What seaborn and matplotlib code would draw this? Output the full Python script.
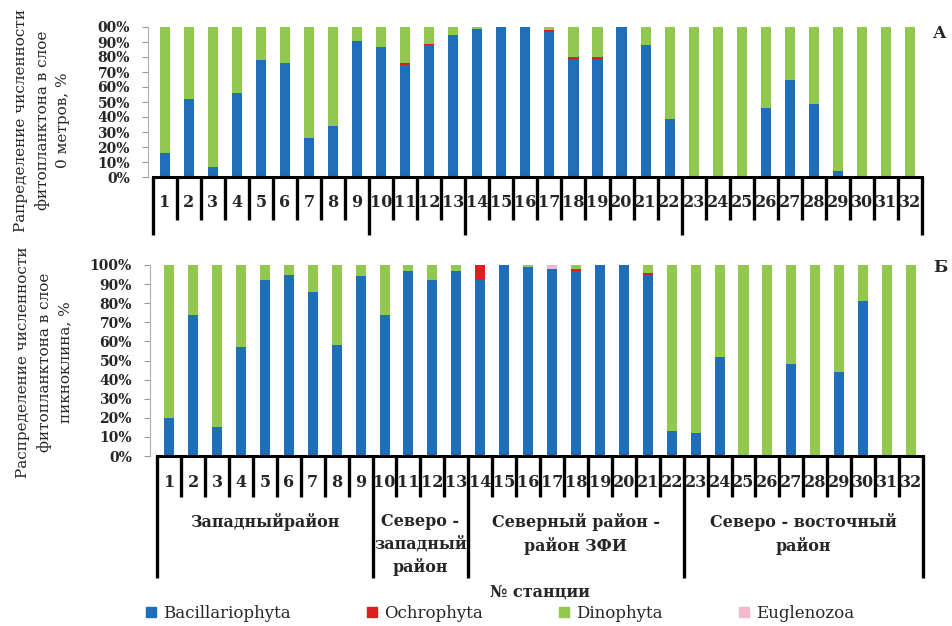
import matplotlib.pyplot as plt
import seaborn as sns
import pandas as pd
from matplotlib.lines import Line2D

# station numbers
stations = [str(i) for i in range(1, 33)]

# layer 0 m (panel A), % of phytoplankton abundance
top_bacil = [16, 52, 7, 56, 78, 76, 26, 34, 91, 87, 75, 88, 95, 99, 100, 100,
             97, 78, 78, 100, 88, 39, 0, 0, 0, 46, 65, 49, 4, 0, 0, 0]
top_ochro = [0, 0, 0, 0, 0, 0, 0, 0, 0, 0, 1, 1, 0, 0, 0, 0,
             1, 2, 2, 0, 0, 0, 0, 0, 0, 0, 0, 0, 0, 0, 0, 0]
top_dino = [84, 48, 93, 44, 22, 24, 74, 66, 9, 13, 24, 11, 5, 1, 0, 0,
            2, 20, 20, 0, 12, 61, 100, 100, 100, 54, 35, 51, 96, 100, 100, 100]
top_eugl = [0] * 32

# pycnocline layer (panel Б)
bot_bacil = [20, 74, 15, 57, 92, 95, 86, 58, 94, 74, 97, 92, 97, 92, 100, 99,
             98, 97, 100, 100, 95, 13, 12, 52, 0, 0, 48, 0, 44, 81, 0, 0]
bot_ochro = [0, 0, 0, 0, 0, 0, 0, 0, 0, 0, 0, 0, 0, 8, 0, 0,
             0, 1, 0, 0, 1, 0, 0, 0, 0, 0, 0, 0, 0, 0, 0, 0]
bot_dino = [80, 26, 85, 43, 8, 5, 14, 42, 6, 26, 3, 8, 3, 0, 0, 1,
            0, 2, 0, 0, 4, 87, 88, 48, 100, 100, 52, 100, 56, 19, 100, 100]
bot_eugl = [0, 0, 0, 0, 0, 0, 0, 0, 0, 0, 0, 0, 0, 0, 0, 0,
            2, 0, 0, 0, 0, 0, 0, 0, 0, 0, 0, 0, 0, 0, 0, 0]

taxa = ["Bacillariophyta", "Ochrophyta", "Dinophyta", "Euglenozoa"]
colors = ["#1E6EB9", "#DC1E1E", "#92C850", "#F2B8CB"]

groups = ["Западныйрайон", "Северо -\nзападный\nрайон",
          "Северный район -\nрайон ЗФИ", "Северо - восточный\nрайон"]
group_edges = [0, 9, 13, 22, 32]

ylabels = ["Рапределение численности\nфитопланктона в слое\n0 метров, %",
           "Распределение численности\nфитопланктона в слое\nпикноклина, %"]
ytick_top = ["0%", "10%", "20%", "30%", "40%", "50%", "60%", "70%", "80%", "90%", "00%"]
ytick_bot = ["0%", "10%", "20%", "30%", "40%", "50%", "60%", "70%", "80%", "90%", "100%"]

sns.set_style("white")
plt.rcParams["font.family"] = ["DejaVu Serif"]

fig = plt.figure(figsize=(9.52, 6.26), dpi=100)
ax1 = fig.add_axes([148 / 952, 1 - 177 / 626, 774 / 952, 150 / 626])
ax2 = fig.add_axes([150 / 952, 1 - 456 / 626, 773 / 952, 191 / 626])


def draw_panel(ax, bacil, ochro, dino, eugl, yticklabels, xmin, num_y, short_y, long_y):
    df = pd.DataFrame({"station": stations, "b": bacil, "o": ochro, "d": dino, "e": eugl})
    df["c1"] = df["b"]
    df["c2"] = df["c1"] + df["o"]
    df["c3"] = df["c2"] + df["d"]
    df["c4"] = df["c3"] + df["e"]
    # stacked bars drawn back to front
    for col, c in zip(["c4", "c3", "c2", "c1"], colors[::-1]):
        sns.barplot(data=df, x="station", y=col, color=c, saturation=1,
                    width=0.42, linewidth=0, ax=ax)
    ax.set_xlim(xmin, 31.5)
    ax.set_ylim(0, 100)
    ax.set_xlabel("")
    ax.set_ylabel("")
    ax.set_yticks(range(0, 101, 10))
    ax.set_yticklabels(yticklabels, fontsize=10, fontweight="bold")
    ax.tick_params(axis="y", left=True, length=4, width=0.8, color="#999999", pad=9)
    ax.tick_params(axis="x", bottom=False, labelbottom=False)
    for s in ["top", "right"]:
        ax.spines[s].set_visible(False)
    ax.spines["left"].set_color("#b0b0b0")
    ax.spines["left"].set_linewidth(0.8)
    ax.spines["bottom"].set_color("black")
    ax.spines["bottom"].set_linewidth(2.2)
    ax.spines["bottom"].set_bounds(-0.5, 31.5)
    # category boxes below the axis
    tr = ax.get_xaxis_transform()
    for k in range(33):
        xb = k - 0.5
        depth = long_y if k in group_edges else short_y
        ax.plot([xb, xb], [0, depth], color="black", lw=2.4, transform=tr,
                clip_on=False, solid_capstyle="butt")
    for i, s in enumerate(stations):
        ax.text(i, num_y, s, transform=tr, ha="center", va="center",
                fontsize=11.5, fontweight="bold")


draw_panel(ax1, top_bacil, top_ochro, top_dino, top_eugl, ytick_top, -0.7,
           -0.173, -0.287, -0.387)
draw_panel(ax2, bot_bacil, bot_ochro, bot_dino, bot_eugl, ytick_bot, -0.8,
           -0.141, -0.215, -0.64)

# region names under the lower panel
tr2 = ax2.get_xaxis_transform()
for g, name in enumerate(groups):
    xc = (group_edges[g] + group_edges[g + 1] - 1) / 2
    ax2.text(xc, -0.30, name, transform=tr2, ha="center", va="top",
             fontsize=11.5, fontweight="bold", linespacing=1.4)

# y axis titles
fig.text(42 / 952, 1 - 120 / 626, ylabels[0], rotation=90, ha="center", va="center",
         fontsize=11, linespacing=1.6, multialignment="center")
fig.text(44 / 952, 1 - 362 / 626, ylabels[1], rotation=90, ha="center", va="center",
         fontsize=11, linespacing=1.6, multialignment="center")

# panel letters
fig.text(940 / 952, 1 - 33 / 626, "А", ha="center", va="center", fontsize=12, fontweight="bold")
fig.text(940 / 952, 1 - 268 / 626, "Б", ha="center", va="center", fontsize=12, fontweight="bold")

fig.text(540 / 952, 1 - 592 / 626, "№ станции", ha="center", va="center",
         fontsize=11.5, fontweight="bold")

handles = [Line2D([], [], marker="s", linestyle="", color=c, markersize=7) for c in colors]
fig.legend(handles, taxa, loc="center", bbox_to_anchor=(500 / 952, 1 - 613 / 626),
           ncol=4, frameon=False, fontsize=12, handlelength=0.6, handletextpad=0.4,
           columnspacing=4.6)

fig.savefig("out.png", dpi=100, facecolor="white")
